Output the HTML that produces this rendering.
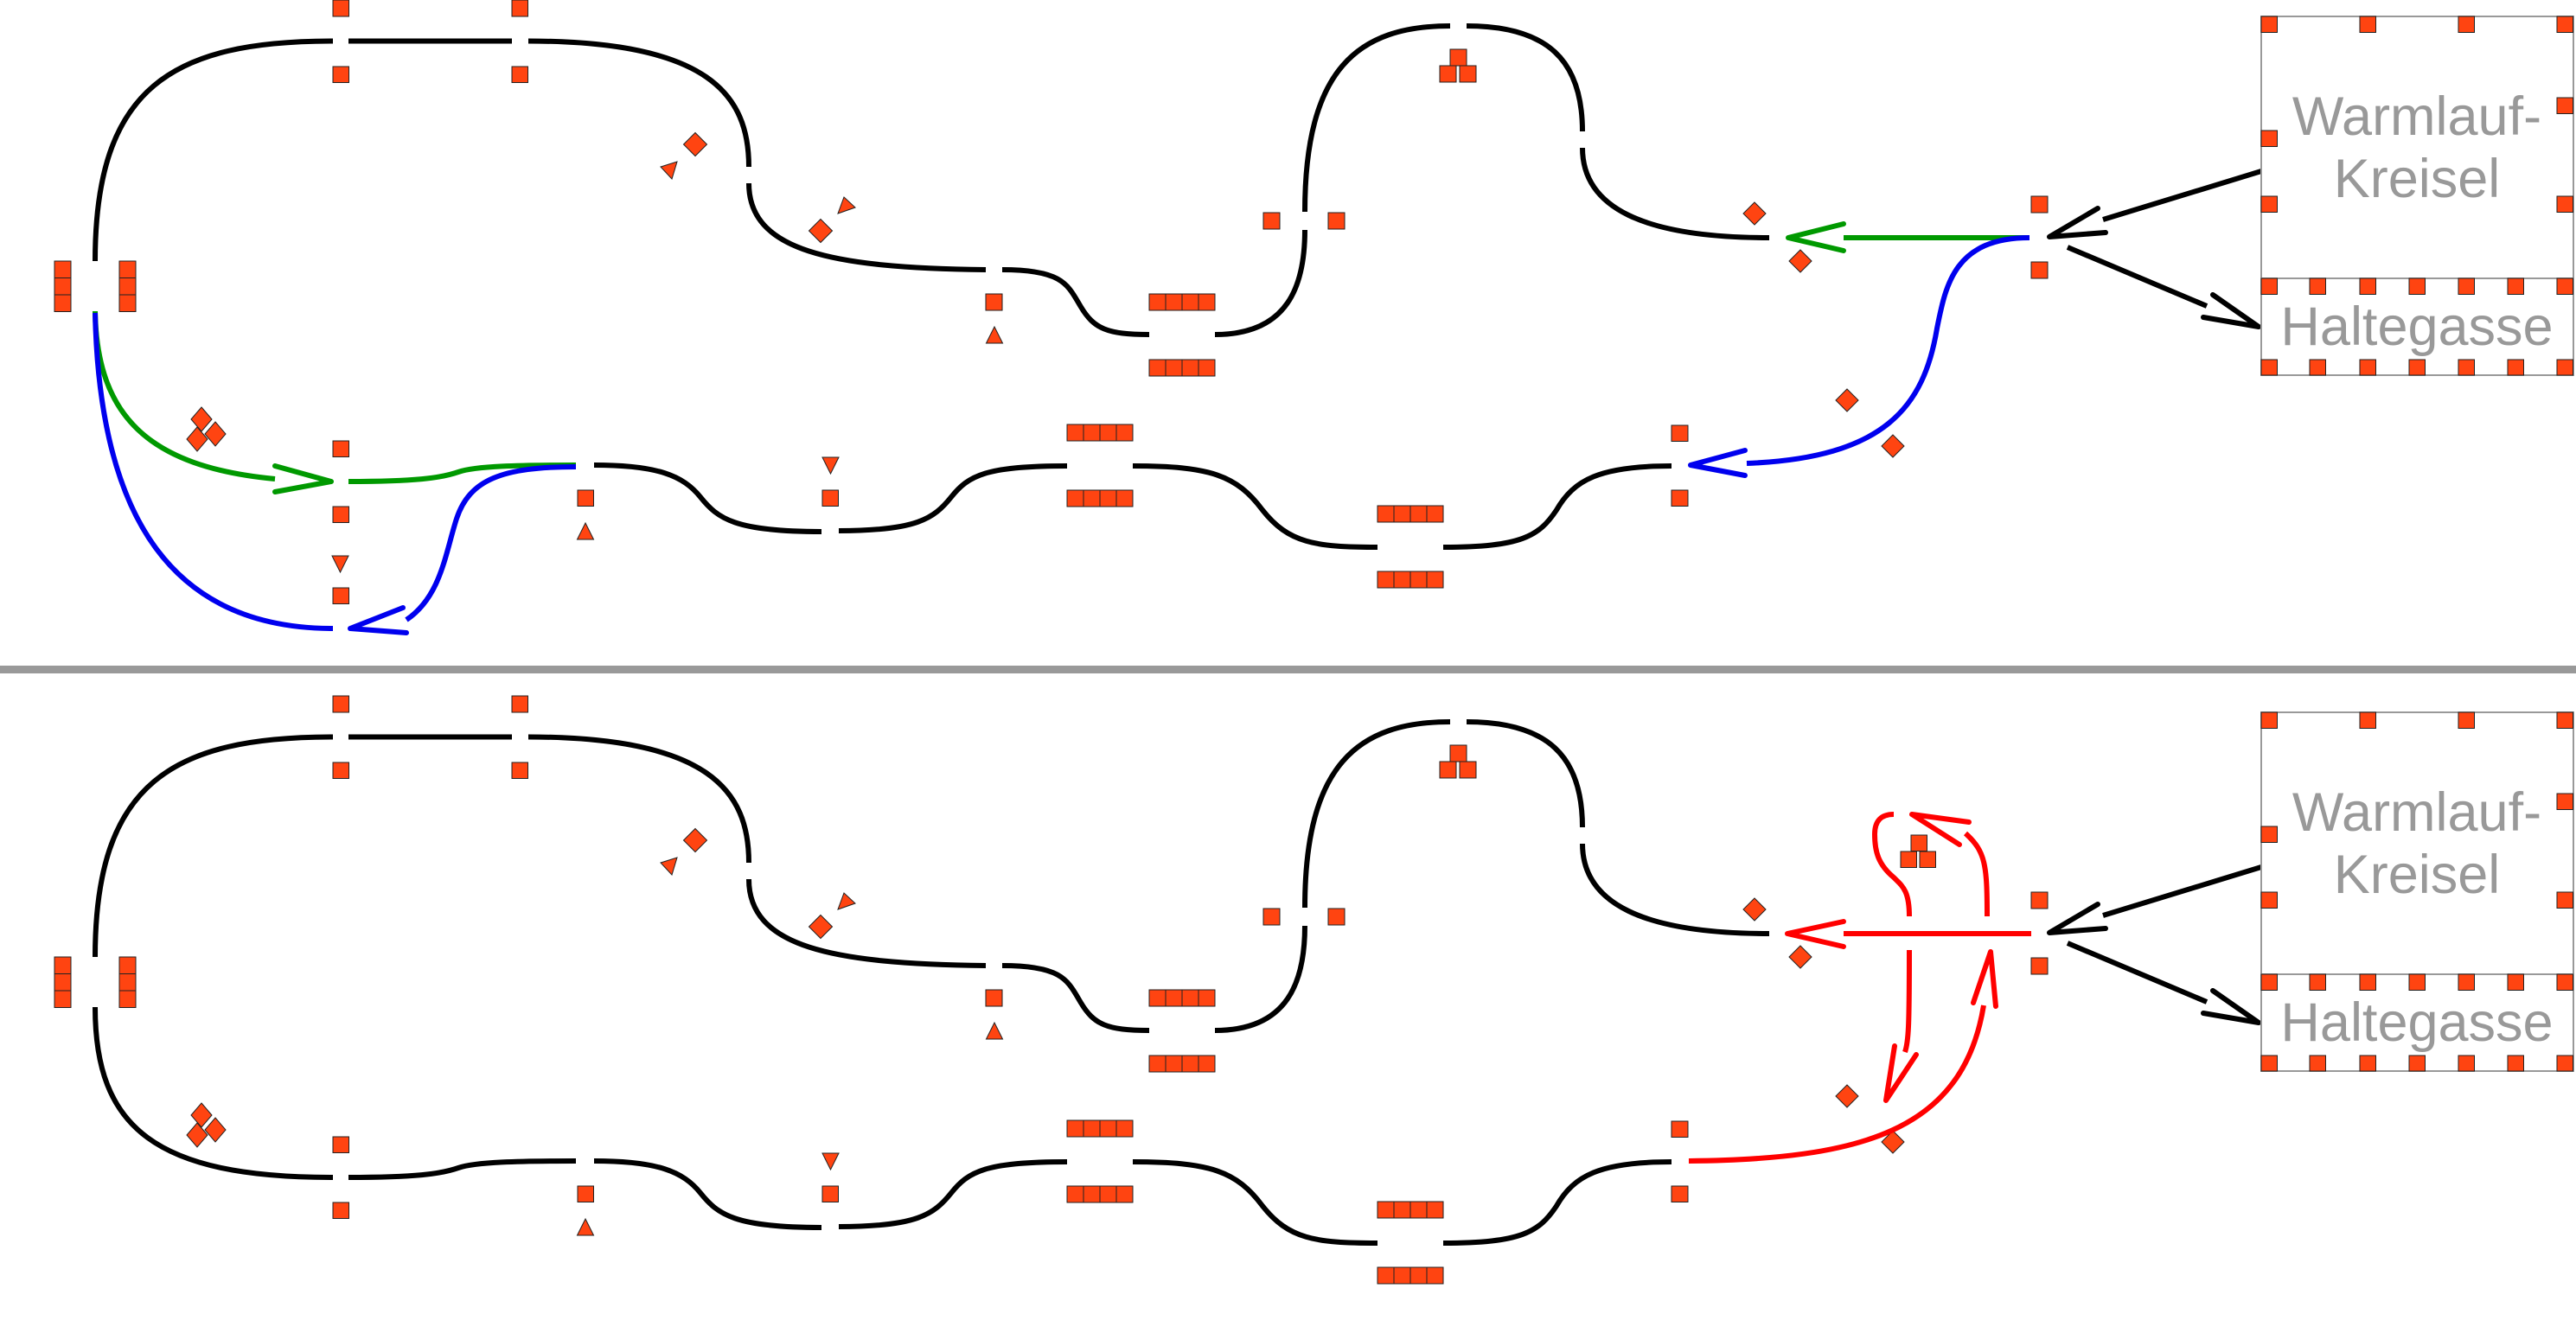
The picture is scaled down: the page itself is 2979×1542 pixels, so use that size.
<!DOCTYPE html>
<html><head><meta charset="utf-8"><style>
html,body{margin:0;padding:0;background:#fff;}
svg{display:block;}
</style></head><body>
<svg width="2979" height="1542" viewBox="0 0 2979 1542" xmlns="http://www.w3.org/2000/svg">
<defs>
<g id="c">
 <g fill="none" stroke="#000" stroke-width="6">
  <path d="M110,302 C110,100 200,47.5 385,47.5"/>
  <path d="M403,47.5 H592"/>
  <path d="M611,47.5 C820,47.5 866,110 866,193"/>
  <path d="M866,212 C866,290 960,310 1140,312"/>
  <path d="M1159,312 C1230,312 1235,330 1250,355 C1265,380 1280,387 1329,387"/>
  <path d="M1405,387 C1490,387 1509,330 1509,266"/>
  <path d="M1509,245 C1509,80 1570,30 1677,30"/>
  <path d="M1696,30 C1790,30 1830,70 1830,152"/>
  <path d="M1830,171 C1830,240 1900,275 2046,275"/>
  <path d="M687,538 C760,538 790,550 810,575 C830,600 850,615 950,615"/>
  <path d="M970,614 C1060,614 1080,600 1100,575 C1120,550 1140,539 1234,539"/>
  <path d="M1310,539 C1400,539 1430,550 1460,590 C1490,628 1520,633 1593,633"/>
  <path d="M1669,633 C1760,633 1780,620 1800,590 C1820,555 1850,539 1933,539"/>
  <path d="M2615,198 L2432,254"/>
  <polyline points="2426,241 2370,274 2435,269" stroke-linecap="round" stroke-linejoin="round"/>
  <path d="M2391,286 L2552,354"/>
  <polyline points="2559,341 2612,378 2548,367" stroke-linecap="round" stroke-linejoin="round"/>
 </g>
 <g fill="#FF4411" stroke="#222" stroke-width="1">
  <rect x="385" y="0" width="18.5" height="19"/><rect x="592" y="0" width="18.5" height="19"/>
  <rect x="385" y="77" width="18.5" height="18.5"/><rect x="592" y="77" width="18.5" height="18.5"/>
  <rect x="63" y="302" width="19" height="19.5"/><rect x="63" y="321.5" width="19" height="19.5"/><rect x="63" y="341" width="19" height="19.5"/>
  <rect x="138" y="302" width="19" height="19.5"/><rect x="138" y="321.5" width="19" height="19.5"/><rect x="138" y="341" width="19" height="19.5"/>
  <rect x="1140" y="340" width="19" height="19"/>
  <polygon points="1150,378 1159.5,397 1140.5,397"/>
  <rect x="1329" y="340" width="19" height="19"/><rect x="1348" y="340" width="19" height="19"/><rect x="1367" y="340" width="19" height="19"/><rect x="1386" y="340" width="19" height="19"/>
  <rect x="1329" y="416" width="19" height="19"/><rect x="1348" y="416" width="19" height="19"/><rect x="1367" y="416" width="19" height="19"/><rect x="1386" y="416" width="19" height="19"/>
  <rect x="1461" y="246" width="19" height="19"/><rect x="1536" y="246" width="19" height="19"/>
  <rect x="1677" y="57" width="19" height="19"/><rect x="1665" y="76" width="19" height="19"/><rect x="1688" y="76" width="19" height="19"/>
  <rect x="2349" y="227" width="19" height="19"/><rect x="2349" y="303" width="19" height="19"/>
  <rect x="385" y="510" width="18.5" height="18.5"/><rect x="385" y="586" width="18.5" height="18.5"/>
  <rect x="668" y="567" width="18.5" height="18.5"/>
  <polygon points="677,605 686.5,624 667.5,624"/>
  <polygon points="951,529 970,529 960.5,548"/>
  <rect x="951" y="567" width="18.5" height="18.5"/>
  <rect x="1234" y="491" width="19" height="19"/><rect x="1253" y="491" width="19" height="19"/><rect x="1272" y="491" width="19" height="19"/><rect x="1291" y="491" width="19" height="19"/>
  <rect x="1234" y="567" width="19" height="19"/><rect x="1253" y="567" width="19" height="19"/><rect x="1272" y="567" width="19" height="19"/><rect x="1291" y="567" width="19" height="19"/>
  <rect x="1593" y="585" width="19" height="19"/><rect x="1612" y="585" width="19" height="19"/><rect x="1631" y="585" width="19" height="19"/><rect x="1650" y="585" width="19" height="19"/>
  <rect x="1593" y="661" width="19" height="19"/><rect x="1612" y="661" width="19" height="19"/><rect x="1631" y="661" width="19" height="19"/><rect x="1650" y="661" width="19" height="19"/>
  <rect x="1933" y="492" width="19" height="18.5"/><rect x="1933" y="567" width="19" height="18.5"/>
  <polygon points="804,153.5 817.5,167 804,180.5 790.5,167"/>
  <polygon points="949,253.5 962.5,267 949,280.5 935.5,267"/>
  <polygon points="764,193 783,187 777,207"/>
  <polygon points="976,228 989,240 969,247"/>
  <polygon points="233,471 245,485 233,499 221,485"/>
  <polygon points="249,488 261,502 249,516 237,502"/>
  <polygon points="228,494 240,508 228,522 216,508"/>
  <polygon points="2029,234 2042,247 2029,260 2016,247"/>
  <polygon points="2082,289 2095,302 2082,315 2069,302"/>
  <polygon points="2136,450 2149,463 2136,476 2123,463"/>
  <polygon points="2189,503 2202,516 2189,529 2176,516"/>
 </g>
 <rect x="2615" y="19" width="361" height="415" fill="#fff" stroke="#999" stroke-width="2"/>
 <line x1="2615" y1="322" x2="2976" y2="322" stroke="#999" stroke-width="2"/>
 <g fill="#FF4411" stroke="#222" stroke-width="1">
  <rect x="2615" y="19" width="18.5" height="18.5"/><rect x="2729" y="19" width="18.5" height="18.5"/><rect x="2843" y="19" width="18.5" height="18.5"/><rect x="2957" y="19" width="18.5" height="18.5"/>
  <rect x="2615" y="151" width="18.5" height="18.5"/><rect x="2615" y="227" width="18.5" height="18.5"/>
  <rect x="2957" y="113" width="18.5" height="18.5"/><rect x="2957" y="227" width="18.5" height="18.5"/>
  <rect x="2615" y="322" width="18.5" height="18.5"/><rect x="2671" y="322" width="18.5" height="18.5"/><rect x="2729" y="322" width="18.5" height="18.5"/><rect x="2786" y="322" width="18.5" height="18.5"/><rect x="2843" y="322" width="18.5" height="18.5"/><rect x="2900" y="322" width="18.5" height="18.5"/><rect x="2957" y="322" width="18.5" height="18.5"/>
  <rect x="2615" y="416" width="18.5" height="18"/><rect x="2671" y="416" width="18.5" height="18"/><rect x="2729" y="416" width="18.5" height="18"/><rect x="2786" y="416" width="18.5" height="18"/><rect x="2843" y="416" width="18.5" height="18"/><rect x="2900" y="416" width="18.5" height="18"/><rect x="2957" y="416" width="18.5" height="18"/>
 </g>
</g>
</defs>

<use href="#c"/>
<use href="#c" y="805"/>

<g font-family="Liberation Sans, Arial, sans-serif" font-size="63" fill="#999" text-anchor="middle">
 <text x="2795" y="156">Warmlauf-</text>
 <text x="2795" y="228">Kreisel</text>
 <text x="2795" y="399">Haltegasse</text>
 <text x="2795" y="961">Warmlauf-</text>
 <text x="2795" y="1033">Kreisel</text>
 <text x="2795" y="1204">Haltegasse</text>
</g>

<g fill="none" stroke-width="6" stroke-linecap="round" stroke-linejoin="round">
 <path d="M110,360 C112,480 170,540 318,554" stroke="#009900" stroke-linecap="butt"/>
 <polyline points="318,539 383,557 318,569" stroke="#009900"/>
 <path d="M403,557 C480,557 510,553 530,546 C550,539 600,538 666,538" stroke="#009900" stroke-linecap="butt"/>
 <path d="M110,362 C115,600 200,727 385,727" stroke="#0000ee" stroke-linecap="butt"/>
 <polyline points="466,703 405,727 470,732" stroke="#0000ee"/>
 <path d="M470,717 C510,690 515,640 528,600 C543,555 580,540 666,540" stroke="#0000ee" stroke-linecap="butt"/>
 <path d="M2347,275 H2132" stroke="#009900" stroke-linecap="butt"/>
 <polyline points="2132,259 2068,275 2132,290" stroke="#009900"/>
 <path d="M2347,275 C2260,275 2250,330 2240,380 C2225,470 2180,530 2020,536" stroke="#0000ee" stroke-linecap="butt"/>
 <polyline points="2018,521 1955,538 2018,550" stroke="#0000ee"/>
</g>
<g fill="#FF4411" stroke="#222" stroke-width="1">
 <polygon points="384,643 403,643 393.5,662"/>
 <rect x="385" y="680" width="18.5" height="18.5"/>
</g>

<rect x="0" y="770" width="2979" height="9" fill="#999"/>

<g fill="none" stroke="#000" stroke-width="6">
 <path d="M110,1165 C110,1305 180,1362 385,1362"/>
 <path d="M403,1362 C480,1362 510,1358 530,1351 C550,1344 600,1343 666,1343"/>
</g>
<g fill="none" stroke="#ff0000" stroke-width="6" stroke-linecap="round" stroke-linejoin="round">
 <path d="M2132,1080 H2349" stroke-linecap="butt"/>
 <polyline points="2132,1066 2067,1080 2132,1095"/>
 <path d="M2208,1060 C2208,1030 2200,1025 2190,1015 C2172,1000 2168,985 2168,965 C2168,950 2175,942 2190,942" stroke-linecap="butt"/>
 <path d="M2298,1060 C2298,1000 2296,985 2273,964" stroke-linecap="butt"/>
 <polyline points="2277,951 2211,942 2266,977"/>
 <path d="M2208,1099 C2208,1190 2207,1205 2203,1217" stroke-linecap="butt"/>
 <polyline points="2191,1210 2181,1273 2216,1220"/>
 <path d="M1953,1343 C2150,1341 2270,1310 2294,1163" stroke-linecap="butt"/>
 <polyline points="2282,1160 2302,1101 2308,1164"/>
</g>
<g fill="#FF4411" stroke="#222" stroke-width="1">
 <rect x="2210" y="966" width="18.5" height="18.5"/><rect x="2198" y="985" width="18.5" height="18.5"/><rect x="2220" y="985" width="18.5" height="18.5"/>
</g>
</svg>
</body></html>
